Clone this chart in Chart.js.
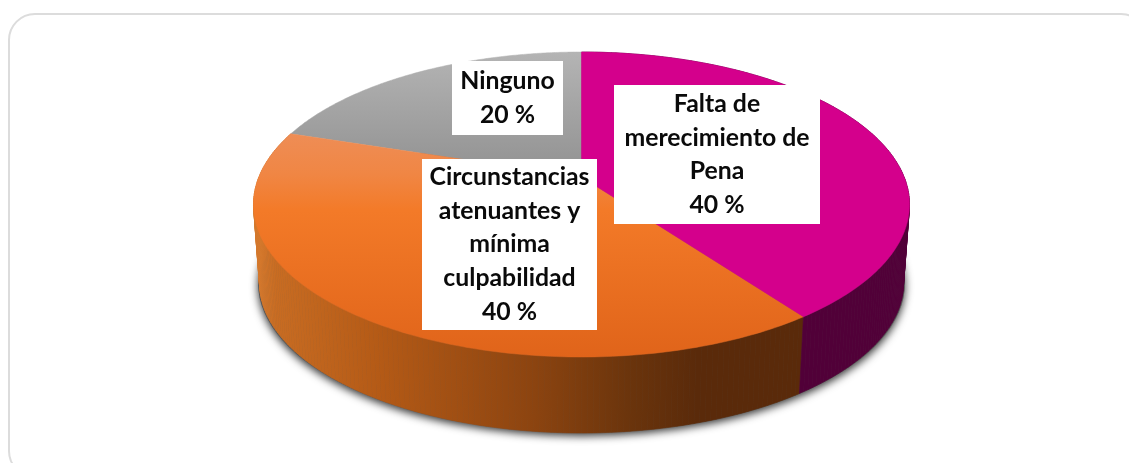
<!DOCTYPE html>
<html lang="es">
<head>
<meta charset="utf-8">
<title>Pie</title>
<script src="https://cdn.jsdelivr.net/npm/chart.js@4"></script>
<style>
html,body{margin:0;padding:0;background:#fff;overflow:hidden;width:1129px;height:463px}
#frame{position:absolute;left:8px;top:13px;width:1140px;height:465px;border:2px solid #dcdcdc;border-radius:27px;box-sizing:border-box}
#wrap{position:absolute;left:0;top:0;width:1129px;height:463px}
</style>
</head>
<body>
<div id="frame"></div>
<div id="wrap"><canvas id="c" width="1129" height="463"></canvas></div>
<script>
// Data
const categories = ["Falta de merecimiento de Pena", "Circunstancias atenuantes y mínima culpabilidad", "Ninguno"];
const values = [40, 40, 20];
const labelLines = [
  ["Falta de", "merecimiento de", "Pena"],
  ["Circunstancias", "atenuantes y", "mínima", "culpabilidad"],
  ["Ninguno"]
];

// Styles
const topStops = [
  [[0, "#d4008c"], [1, "#d4008c"]],
  [[0, "#ee8e58"], [0.2, "#f08644"], [0.36, "#f37a28"], [1, "#e0641a"]],
  [[0, "#b4b4b4"], [0.36, "#959595"], [1, "#959595"]]
];
const sideStops = [
  [[0, "#510038"], [1, "#510038"]],
  [[0, "#d4782c"], [0.03, "#c86c22"], [0.22, "#b45a16"], [0.5, "#8c4410"], [0.68, "#6a340c"], [0.8, "#5a2a0a"], [1, "#5a2a0a"]],
  [[0, "#777777"], [1, "#777777"]]
];
const boxes = [
  {x: 614, y: 85, w: 206, h: 139},
  {x: 422, y: 159, w: 175, h: 171},
  {x: 452, y: 61, w: 111, h: 74}
];
const ASPECT_X = 328 / 152.5, DEPTH = 78.5, BOTTOM_SCALE = 322 / 328, BOTTOM_RY = 150 / 152.5, PERSP = 0.18;
const LINE_H = 33.8, FONT = 'bold 24.8px Lato, "Open Sans", sans-serif';

// perspective projection of a circle angle onto the tilted disc
function project(theta, e) {
  const u = Math.sin(theta), v = -Math.cos(theta), k = 1 - PERSP * v;
  return [e.cx + e.rx * u * Math.sqrt(1 - PERSP * PERSP) / k, e.cy + e.ry * (v - PERSP) / k];
}
function arcPoints(a, b, e) {
  const pts = [], n = 160;
  for (let i = 0; i <= n; i++) pts.push(project(a + (b - a) * i / n, e));
  return pts;
}
function makeGrad(ctx, x0, y0, x1, y1, stops) {
  const g = ctx.createLinearGradient(x0, y0, x1, y1);
  stops.forEach(s => g.addColorStop(s[0], s[1]));
  return g;
}

const pie3d = {
  id: "pie3d",
  beforeDatasetDraw(chart, args) {
    const ctx = chart.ctx, arcs = chart.getDatasetMeta(args.index).data;
    const p0 = arcs[0].getProps(["x", "y", "outerRadius"]);
    const R = p0.outerRadius;
    const top = {cx: p0.x, cy: p0.y, rx: R * ASPECT_X, ry: R};
    const bot = {cx: p0.x, cy: p0.y + DEPTH, rx: top.rx * BOTTOM_SCALE, ry: R * BOTTOM_RY};

    ctx.save();
    // soft shadow under the disc
    ctx.save();
    ctx.shadowColor = "rgba(0,0,0,0.8)";
    ctx.shadowBlur = 8;
    ctx.shadowOffsetY = 3;
    ctx.fillStyle = "#555";
    ctx.beginPath();
    ctx.ellipse(bot.cx, bot.cy, bot.rx + 1.5, bot.ry, 0, 0, Math.PI * 2);
    ctx.fill();
    ctx.restore();

    const ang = arcs.map(el => {
      const p = el.getProps(["startAngle", "endAngle"]);
      return [p.startAngle + Math.PI / 2, p.endAngle + Math.PI / 2];
    });

    // sides: swept between the top rim and the bottom rim
    [1, 0].forEach(i => {
      const [a, b] = ang[i];
      const t = arcPoints(a, b, top), bp = arcPoints(a, b, bot);
      const fill = makeGrad(ctx, bot.cx - bot.rx, 0, bot.cx + bot.rx * 0.7, 0, sideStops[i]);
      ctx.fillStyle = fill;
      ctx.strokeStyle = fill;
      ctx.lineWidth = 0.6;
      for (let j = 0; j < t.length - 1; j++) {
        ctx.beginPath();
        ctx.moveTo(t[j][0], t[j][1]);
        ctx.lineTo(t[j + 1][0], t[j + 1][1]);
        ctx.lineTo(bp[j + 1][0], bp[j + 1][1]);
        ctx.lineTo(bp[j][0], bp[j][1]);
        ctx.closePath();
        ctx.fill();
        ctx.stroke();
      }
    });

    // top faces
    const apex = [top.cx, top.cy - PERSP * top.ry];
    [2, 1, 0].forEach(i => {
      const [a, b] = ang[i];
      ctx.beginPath();
      ctx.moveTo(apex[0], apex[1]);
      arcPoints(a, b, top).forEach(p => ctx.lineTo(p[0], p[1]));
      ctx.closePath();
      const y0 = i === 1 ? top.cy - 0.5 * top.ry : top.cy - top.ry;
      const fill = makeGrad(ctx, 0, y0, 0, top.cy + top.ry, topStops[i]);
      ctx.fillStyle = fill;
      ctx.strokeStyle = fill;
      ctx.lineWidth = 0.5;
      ctx.fill();
      ctx.stroke();
    });
    ctx.restore();
    return false;
  },
  afterDatasetsDraw(chart) {
    const ctx = chart.ctx;
    ctx.save();
    ctx.font = FONT;
    ctx.textAlign = "center";
    ctx.textBaseline = "middle";
    [2, 0, 1].forEach(i => {
      const b = boxes[i];
      ctx.fillStyle = "#fff";
      ctx.fillRect(b.x, b.y, b.w, b.h);
      ctx.fillStyle = "#0a0a0a";
      const lines = labelLines[i].concat([values[i] + " %"]);
      const y0 = b.y + b.h / 2 - LINE_H * (lines.length - 1) / 2;
      lines.forEach((l, j) => ctx.fillText(l, b.x + b.w / 2, y0 + j * LINE_H));
    });
    ctx.restore();
  }
};

new Chart(document.getElementById("c"), {
  type: "pie",
  data: {labels: categories, datasets: [{data: values, backgroundColor: ["#d4008c", "#f37a28", "#a6a6a6"], borderWidth: 0}]},
  options: {
    responsive: false,
    animation: false,
    events: [],
    layout: {padding: {left: 254, right: 220, top: 52, bottom: 106}},
    plugins: {legend: {display: false}, tooltip: {enabled: false}, title: {display: false}}
  },
  plugins: [pie3d]
});
</script>
</body>
</html>
